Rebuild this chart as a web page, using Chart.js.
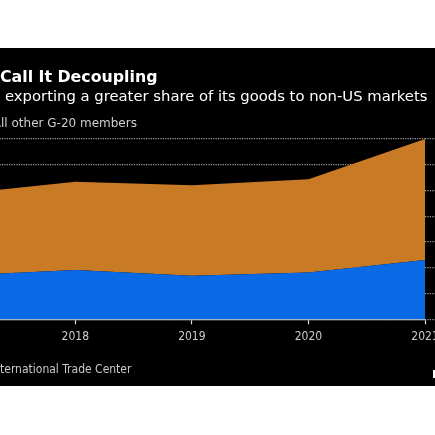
<!DOCTYPE html>
<html>
<head>
<meta charset="utf-8">
<script src="https://cdn.jsdelivr.net/npm/chart.js@4.4.1/dist/chart.umd.min.js"></script>
<style>
  html, body { margin:0; padding:0; background:#fff; width:435px; height:435px; overflow:hidden; }
  #panel { position:absolute; left:0; top:48px; width:435px; height:338px; background:#000; overflow:hidden; }
  .t { position:absolute; white-space:nowrap; line-height:1; font-family:"DejaVu Sans", sans-serif; }
  .pre { position:absolute; right:100%; top:0; white-space:nowrap; }
  #chartBox { position:absolute; left:-60px; top:0; width:560px; height:338px; }
  .sw { display:inline-block; width:0.7em; height:0.7em; margin-right:0.3em; }
</style>
</head>
<body>
<div id="panel">
  <div id="chartBox"><canvas id="c"></canvas></div>
  <div class="t" id="title" style="left:0px; top:20.6px; font-size:15.8px; font-weight:bold; color:#fff;"><span class="pre">Don't&nbsp;</span>Call It Decoupling</div>
  <div class="t" id="sub" style="left:5px; top:40.5px; font-size:14.8px; color:#fff;"><span class="pre">China is&nbsp;</span>exporting a greater share of its goods to non-US markets</div>
  <div class="t" id="leg" style="left:1px; top:68.8px; font-size:12px; color:#cfcfcf;"><span class="pre"><span class="sw" style="background:#0a6ae6"></span>US&nbsp;&nbsp;<span class="sw" style="background:#c87a24"></span>A</span>ll other G-20 members</div>
  <div class="t" id="foot" style="left:0px; top:315.3px; font-size:12px; font-family:'DejaVu Sans Condensed','DejaVu Sans',sans-serif; color:#c8c8c8;"><span class="pre">Source: In</span>ternational Trade Center</div>
  <div class="t" id="logo" style="left:432px; top:321px; font-size:11px; font-weight:bold; color:#fff;">Bloomberg</div>
</div>
<script>
const years = ['2017', '2018', '2019', '2020', '2021'];
const usExports = [432, 485, 430, 462, 585];
const otherG20Exports = [803, 870, 892, 918, 1193];
const yTickStep = 250;
const yMax = 1780;

const ctx = document.getElementById('c');
new Chart(ctx, {
  type: 'line',
  data: {
    labels: years,
    datasets: [
      { label: 'US', data: usExports, fill: 'origin', backgroundColor: '#0a6ae6', borderWidth: 0, pointRadius: 0, tension: 0 },
      { label: 'All other G-20 members', data: otherG20Exports, fill: '-1', backgroundColor: '#c87a24', borderWidth: 0, pointRadius: 0, tension: 0 }
    ]
  },
  options: {
    responsive: true,
    maintainAspectRatio: false,
    animation: false,
    layout: { padding: { left: 16, top: 90.7, right: 0, bottom: 0 } },
    plugins: { legend: { display: false }, tooltip: { enabled: false } },
    scales: {
      x: {
        type: 'category',
        offset: false,
        grid: { drawOnChartArea: false, drawTicks: true, tickLength: 5, tickColor: '#e0e0e0', tickWidth: 1.2 },
        border: { display: true, color: '#a9b3c0', width: 1.2 },
        ticks: { color: '#cccccc', padding: 5, maxRotation: 0, font: { family: "'DejaVu Sans Condensed','DejaVu Sans',sans-serif", size: 12 } },
        afterFit: s => { s.height = 66.7; }
      },
      y: {
        position: 'right',
        stacked: true,
        min: 0,
        max: yMax,
        grid: { color: '#a0a0a0', lineWidth: 1.2, tickLength: 12, tickColor: '#a0a0a0', tickWidth: 1.2, tickBorderDash: [1.2, 1.2] },
        border: { display: false, dash: [1.2, 1.2] },
        ticks: { stepSize: yTickStep, includeBounds: false, color: '#cccccc', padding: 4, font: { family: "'DejaVu Sans Condensed','DejaVu Sans',sans-serif", size: 12 } },
        afterFit: s => { s.width = 75; }
      }
    }
  }
});
</script>
</body>
</html>
